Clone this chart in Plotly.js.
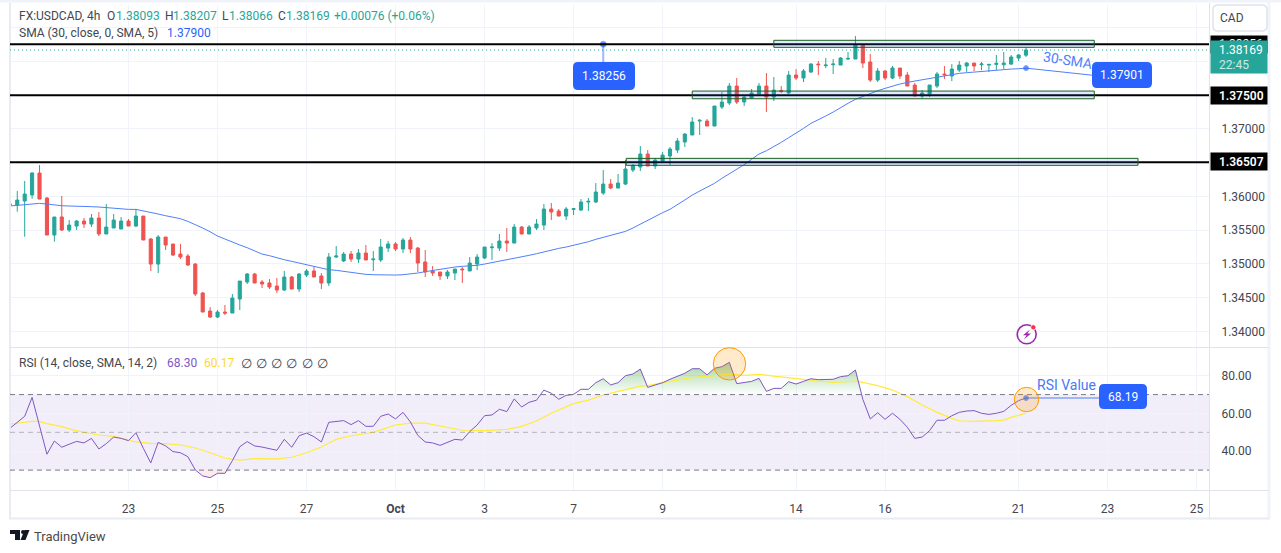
<!DOCTYPE html>
<html><head><meta charset="utf-8">
<script src="https://cdn.plot.ly/plotly-3.0.1.min.js"></script>
<style>html,body{margin:0;padding:0;background:#fff}#chart{width:1281px;height:553px}</style>
</head><body><div id="chart"></div>
<script>
// ---- data ----
const firstBar = -1;
const opens = [1.35877,1.35872,1.35932,1.36021,1.36346,1.35976,1.35428,1.35695,1.35502,1.35561,
1.35635,1.35591,1.35680,1.35443,1.35532,1.35517,1.35635,1.35561,1.35709,1.35369,
1.34998,1.35398,1.35295,1.35146,1.35117,1.34998,1.34569,1.34302,1.34213,1.34287,
1.34272,1.34480,1.34732,1.34850,1.34732,1.34717,1.34672,1.34613,1.34806,1.34628,
1.34835,1.34895,1.34821,1.34717,1.35102,1.35043,1.35146,1.35072,1.35161,1.35062,
1.35058,1.35235,1.35295,1.35221,1.35354,1.35235,1.35028,1.34895,1.34880,1.34821,
1.34865,1.34924,1.34895,1.34998,1.35087,1.35240,1.35235,1.35339,1.35309,1.35546,
1.35443,1.35532,1.35576,1.35813,1.35783,1.35709,1.35808,1.35798,1.35917,1.35917,
1.36050,1.36183,1.36124,1.36183,1.36391,1.36435,1.36628,1.36450,1.36524,1.36598,
1.36687,1.36806,1.36910,1.37117,1.37117,1.37043,1.37324,1.37384,1.37635,1.37398,
1.37458,1.37517,1.37635,1.37472,1.37571,1.37532,1.37798,1.37754,1.37843,1.37961,
1.37937,1.37951,1.37946,1.38035,1.38035,1.38243,1.37991,1.37724,1.37858,1.37754,
1.37902,1.37798,1.37650,1.37487,1.37517,1.37635,1.37813,1.37784,1.37872,1.37932,
1.37976,1.37951,1.37946,1.37956,1.37951,1.37961,1.38050,1.38093];
const highs = [1.35922,1.36080,1.36228,1.36361,1.36465,1.35991,1.35695,1.36006,1.35650,1.35650,
1.35680,1.35739,1.35769,1.35887,1.35739,1.35695,1.35665,1.35813,1.35709,1.35383,
1.35428,1.35398,1.35295,1.35295,1.35146,1.35013,1.34584,1.34361,1.34317,1.34391,
1.34554,1.34746,1.34865,1.34865,1.34761,1.34776,1.34791,1.34895,1.34821,1.34865,
1.34924,1.34954,1.34865,1.35161,1.35265,1.35176,1.35191,1.35221,1.35280,1.35191,
1.35369,1.35339,1.35324,1.35383,1.35398,1.35250,1.35206,1.34969,1.34880,1.34909,
1.34924,1.34954,1.35102,1.35146,1.35250,1.35309,1.35443,1.35532,1.35591,1.35561,
1.35576,1.35665,1.35887,1.35902,1.35813,1.35843,1.35828,1.35961,1.35976,1.36198,
1.36391,1.36258,1.36332,1.36539,1.36480,1.36747,1.36687,1.36569,1.36658,1.36732,
1.36865,1.36939,1.37176,1.37147,1.37147,1.37339,1.37547,1.37680,1.37754,1.37502,
1.37591,1.37680,1.37828,1.37769,1.37635,1.37858,1.37887,1.37887,1.37976,1.38006,
1.38050,1.38035,1.38065,1.38139,1.38376,1.38243,1.38109,1.37902,1.37872,1.37932,
1.37902,1.37843,1.37680,1.37576,1.37650,1.37843,1.37932,1.37961,1.38006,1.37991,
1.37976,1.37991,1.37961,1.38095,1.38139,1.38095,1.38109,1.38207];
const lows = [1.35818,1.35774,1.35403,1.35966,1.35961,1.35428,1.35329,1.35487,1.35472,1.35502,
1.35532,1.35546,1.35413,1.35443,1.35532,1.35517,1.35561,1.35546,1.35354,1.34895,
1.34865,1.35206,1.35117,1.35072,1.34969,1.34524,1.34287,1.34198,1.34198,1.34243,
1.34272,1.34317,1.34702,1.34717,1.34643,1.34628,1.34569,1.34598,1.34628,1.34584,
1.34806,1.34806,1.34628,1.34672,1.35087,1.35028,1.35028,1.35013,1.35058,1.34895,
1.35028,1.35176,1.35191,1.35161,1.35161,1.34880,1.34806,1.34821,1.34761,1.34776,
1.34761,1.34717,1.34895,1.34909,1.35072,1.35058,1.35191,1.35176,1.35309,1.35443,
1.35443,1.35502,1.35502,1.35650,1.35709,1.35650,1.35724,1.35783,1.35783,1.35902,
1.36021,1.36109,1.36124,1.36168,1.36361,1.36376,1.36450,1.36406,1.36495,1.36465,
1.36643,1.36732,1.36910,1.36910,1.37043,1.37043,1.37295,1.37354,1.37369,1.37339,
1.37443,1.37487,1.37250,1.37413,1.37532,1.37517,1.37724,1.37695,1.37828,1.37798,
1.37902,1.37813,1.37946,1.38021,1.38035,1.37902,1.37695,1.37695,1.37724,1.37739,
1.37739,1.37635,1.37487,1.37458,1.37472,1.37606,1.37739,1.37709,1.37843,1.37843,
1.37858,1.37872,1.37843,1.37872,1.37887,1.37946,1.38006,1.38066];
const closes = [1.35887,1.35946,1.36035,1.36346,1.35961,1.35428,1.35695,1.35502,1.35576,1.35635,
1.35591,1.35680,1.35443,1.35546,1.35650,1.35635,1.35561,1.35709,1.35354,1.34998,
1.35398,1.35280,1.35132,1.35102,1.34984,1.34554,1.34287,1.34213,1.34287,1.34272,
1.34495,1.34746,1.34850,1.34717,1.34702,1.34658,1.34613,1.34806,1.34628,1.34850,
1.34895,1.34806,1.34717,1.35102,1.35117,1.35146,1.35072,1.35161,1.35058,1.35072,
1.35250,1.35295,1.35221,1.35354,1.35221,1.35013,1.34880,1.34865,1.34821,1.34880,
1.34924,1.34914,1.35013,1.35102,1.35250,1.35250,1.35339,1.35309,1.35546,1.35443,
1.35546,1.35591,1.35813,1.35769,1.35709,1.35813,1.35818,1.35917,1.35927,1.36065,
1.36183,1.36124,1.36198,1.36406,1.36460,1.36628,1.36450,1.36539,1.36613,1.36702,
1.36821,1.36924,1.37102,1.37127,1.37043,1.37339,1.37398,1.37635,1.37398,1.37472,
1.37532,1.37635,1.37472,1.37576,1.37556,1.37798,1.37754,1.37858,1.37961,1.37951,
1.37946,1.37961,1.38050,1.38045,1.38243,1.37976,1.37724,1.37858,1.37754,1.37902,
1.37784,1.37635,1.37487,1.37532,1.37650,1.37813,1.37803,1.37887,1.37946,1.37976,
1.37932,1.37961,1.37956,1.37971,1.37976,1.38065,1.38095,1.38169];
const sma30 = [1.35858,1.35867,1.35877,1.35892,1.35897,1.35887,1.35872,1.35862,1.35858,1.35858,
1.35853,1.35848,1.35843,1.35833,1.35823,1.35813,1.35808,1.35808,1.35788,1.35759,
1.35739,1.35714,1.35690,1.35670,1.35630,1.35586,1.35532,1.35477,1.35413,1.35369,
1.35319,1.35280,1.35240,1.35191,1.35146,1.35122,1.35087,1.35062,1.35038,1.35013,
1.34988,1.34959,1.34929,1.34914,1.34905,1.34890,1.34870,1.34855,1.34845,1.34840,
1.34835,1.34835,1.34835,1.34840,1.34850,1.34865,1.34885,1.34905,1.34924,1.34939,
1.34954,1.34964,1.34969,1.34979,1.34998,1.35018,1.35043,1.35068,1.35087,1.35107,
1.35127,1.35151,1.35181,1.35206,1.35230,1.35250,1.35275,1.35300,1.35329,1.35364,
1.35393,1.35418,1.35448,1.35482,1.35532,1.35591,1.35650,1.35699,1.35759,1.35809,
1.35873,1.35947,1.36021,1.36080,1.36139,1.36194,1.36268,1.36332,1.36399,1.36470,
1.36550,1.36628,1.36677,1.36737,1.36801,1.36870,1.36934,1.37008,1.37082,1.37132,
1.37191,1.37250,1.37319,1.37379,1.37438,1.37482,1.37522,1.37566,1.37601,1.37635,
1.37665,1.37690,1.37709,1.37724,1.37749,1.37769,1.37788,1.37808,1.37823,1.37833,
1.37843,1.37853,1.37863,1.37872,1.37882,1.37887,1.37892,1.37900];
const rsi = [52.1,55.3,58.5,68.5,53.9,38.4,45.4,42.1,43.7,45.2,
44.4,46.8,41.2,44.0,47.5,46.8,45.6,49.8,41.5,33.8,
44.7,42.8,39.8,39.2,37.1,30.1,26.9,26.0,28.3,28.3,
35.0,42.4,45.1,42.8,42.2,41.4,40.5,46.3,42.1,48.2,
49.6,47.7,44.9,55.3,55.7,56.2,54.1,56.2,53.2,53.2,
58.5,59.7,57.1,60.6,55.5,48.4,44.9,44.4,43.1,44.5,
46.3,45.9,50.4,53.9,58.8,59.2,62.2,61.0,67.7,63.4,
65.9,67.0,72.4,70.7,67.5,69.6,70.1,72.8,72.8,76.3,
78.4,75.1,76.3,80.0,80.9,83.5,73.8,75.1,76.3,78.1,
79.8,81.3,83.7,83.7,80.4,83.9,84.8,87.1,75.8,76.5,
77.0,78.6,71.7,73.3,73.3,76.8,75.6,77.0,78.4,77.9,
77.9,78.1,79.5,80.0,83.0,67.5,57.1,60.4,56.9,60.1,
56.9,52.7,46.8,47.5,50.9,56.4,56.4,58.8,60.6,61.3,
61.5,60.1,59.5,60.1,61.1,64.3,66.8,68.19];
const rsiMaBars = [-1,1,2,3,4,6,7,9,11,13,15,16,18,20,22,24,26,28,29,30,32,35,37,39,41,
43,45,48,51,53,55,57,60,63,66,68,70,72,75,77,79,81,84,85,87,89,91,94,96,98,100,102,104,106,108,110,112,113,114,116,118,120,122,124,126,127,128,129,132,133,134,135,136];
const rsiMa = [54.4,55.5,55.8,55.8,54.6,53.0,51.8,50.0,48.6,47.9,45.8,44.9,44.2,44.0,43.3,41.7,39.2,36.4,35.7,35.3,36.1,35.9,36.8,39.2,42.2,
46.3,48.2,50.0,53.9,54.9,54.9,53.4,51.1,50.9,51.6,53.2,56.0,60.1,65.2,67.1,69.8,71.7,74.5,74.7,76.3,77.7,79.0,79.8,80.7,80.2,80.7,79.8,79.1,78.1,77.2,76.5,76.8,77.2,76.5,74.7,72.4,68.9,64.5,60.6,57.4,56.0,56.0,55.8,56.2,56.5,57.9,59.0,60.17];
const tickBars = [15,27,39,51,63,75,87,105,117,135,147,159];
const tickLabels = ['23','25','27','<b>Oct</b>','3','7','9','14','16','21','23','25'];
const priceTicks = [1.34,1.345,1.35,1.355,1.36,1.365,1.37,1.375,1.38,1.385];
const priceTickLabels = ['1.34000','1.34500','1.35000','1.35500','1.36000','','1.37000','','',''];
const rsiTicks = [40,60,80];
const rsiTickLabels = ['40.00','60.00','80.00'];
const levels = [1.38256,1.375,1.36507];
const lastClose = 1.38169;
const smaCallout = 1.37901, rsiCallout = 68.19, levelCallout = 1.38256;
const zones = [[102.0,145.2,1.38209,1.38313],[91.0,145.2,1.37447,1.37561],[82.1,151.1,1.36461,1.36564]];

// ---- layout helpers ----
const W=1281,H=553,px=x=>x/W,py=y=>1-y/H,FONT='Roboto, sans-serif',INK='#434651',BLUE='#2962ff',SMA_BLUE='#4f7ffb';
const bars = opens.map((_,i)=>firstBar+i);
const rsiOver = rsi.map(v=>Math.max(v,70)), rsiUnder = rsi.map(v=>Math.min(v,30));

const traces = [
 {type:'candlestick',x:bars,open:opens,high:highs,low:lows,close:closes,xaxis:'x',yaxis:'y',whiskerwidth:0,hoverinfo:'skip',
  increasing:{line:{color:'#26a69a',width:1},fillcolor:'#26a69a'},decreasing:{line:{color:'#ef5350',width:1},fillcolor:'#ef5350'}},
 {type:'scatter',mode:'lines',x:bars,y:sma30,xaxis:'x',yaxis:'y',line:{color:SMA_BLUE,width:1},hoverinfo:'skip'},
 {type:'scatter',mode:'lines',x:bars,y:bars.map(()=>70),xaxis:'x',yaxis:'y2',line:{width:0},hoverinfo:'skip'},
 {type:'scatter',mode:'lines',x:bars,y:rsiOver,xaxis:'x',yaxis:'y2',line:{width:0},fill:'tonexty',hoverinfo:'skip',
  fillgradient:{type:'vertical',start:70,stop:88,colorscale:[[0,'rgba(76,175,80,0)'],[1,'rgba(76,175,80,0.55)']]}},
 {type:'scatter',mode:'lines',x:bars,y:bars.map(()=>30),xaxis:'x',yaxis:'y2',line:{width:0},hoverinfo:'skip'},
 {type:'scatter',mode:'lines',x:bars,y:rsiUnder,xaxis:'x',yaxis:'y2',line:{width:0},fill:'tonexty',fillcolor:'rgba(239,83,80,0.12)',hoverinfo:'skip'},
 {type:'scatter',mode:'lines',x:rsiMaBars,y:rsiMa,xaxis:'x',yaxis:'y2',line:{color:'#ffeb3b',width:1.2},hoverinfo:'skip'},
 {type:'scatter',mode:'lines',x:bars,y:rsi,xaxis:'x',yaxis:'y2',line:{color:'#7e57c2',width:1},hoverinfo:'skip'},
 // callout leaders
 {type:'scatter',mode:'lines+markers',x:[79,79],y:[levelCallout,1.3795],xaxis:'x',yaxis:'y',line:{color:'rgba(41,98,255,0.45)',width:2},marker:{size:[6,0],color:BLUE},hoverinfo:'skip'},
 {type:'scatter',mode:'lines+markers',x:[136,145],y:[smaCallout,1.37795],xaxis:'x',yaxis:'y',line:{color:SMA_BLUE,width:1},marker:{size:[5,0],color:BLUE},hoverinfo:'skip'},
 {type:'scatter',mode:'lines+markers',x:[136,146],y:[rsiCallout,rsiCallout],xaxis:'x',yaxis:'y2',line:{color:SMA_BLUE,width:1},marker:{size:[5,0],color:BLUE},hoverinfo:'skip'}
];

function rrect(x0,y0,x1,y1,r,fill){
 const X=v=>px(v),Y=v=>py(v);
 return {type:'path',xref:'paper',yref:'paper',layer:'above',fillcolor:fill,line:{width:0},
  path:`M ${X(x0+r)} ${Y(y0)} L ${X(x1-r)} ${Y(y0)} Q ${X(x1)} ${Y(y0)} ${X(x1)} ${Y(y0+r)} L ${X(x1)} ${Y(y1-r)} Q ${X(x1)} ${Y(y1)} ${X(x1-r)} ${Y(y1)} L ${X(x0+r)} ${Y(y1)} Q ${X(x0)} ${Y(y1)} ${X(x0)} ${Y(y1-r)} L ${X(x0)} ${Y(y0+r)} Q ${X(x0)} ${Y(y0)} ${X(x0+r)} ${Y(y0)} Z`};
}
const pline=(x0,y0,x1,y1,c,w)=>({type:'line',xref:'paper',yref:'paper',layer:'above',x0:px(x0),x1:px(x1),y0:py(y0),y1:py(y1),line:{color:c,width:w}});
const circ=(cx,cy,r,fill,c,w)=>({type:'circle',xref:'paper',yref:'paper',layer:'above',x0:px(cx-r),x1:px(cx+r),y0:py(cy-r),y1:py(cy+r),fillcolor:fill,line:{color:c,width:w}});

const shapes = [
 // frame
 pline(0,1,1281,1,'#f0f3fa',3), pline(10,3,10,518,'#e9ebf2',2), pline(9,518.5,1270,518.5,'#e9ebf2',2), pline(1269,1,1269,518,'#f0f3fa',3),
 pline(1209.5,3,1209.5,518,'#e0e3eb',1), pline(10,347.5,1269,347.5,'#e0e3eb',1), pline(10,490.5,1269,490.5,'#e0e3eb',1),
 // RSI band and levels
 {type:'rect',xref:'x domain',yref:'y2',x0:0,x1:1,y0:30,y1:70,layer:'below',fillcolor:'rgba(126,87,194,0.1)',line:{width:0}},
 {type:'line',xref:'x domain',yref:'y2',x0:0,x1:1,y0:70,y1:70,line:{color:'#787b86',width:1,dash:'5px,4px'}},
 {type:'line',xref:'x domain',yref:'y2',x0:0,x1:1,y0:50,y1:50,line:{color:'rgba(120,123,134,0.5)',width:1,dash:'5px,4px'}},
 {type:'line',xref:'x domain',yref:'y2',x0:0,x1:1,y0:30,y1:30,line:{color:'#787b86',width:1,dash:'5px,4px'}},
 // price levels
 ...levels.map(v=>({type:'line',xref:'x domain',yref:'y',x0:0,x1:1,y0:v,y1:v,layer:'above',line:{color:'#000',width:2}})),
 {type:'line',xref:'x domain',yref:'y',x0:0,x1:1,y0:lastClose,y1:lastClose,line:{color:'#26a69a',width:1,dash:'1px,3px'}},
 // zones
 ...zones.map(z=>({type:'rect',xref:'x',yref:'y',x0:z[0],x1:z[1],y0:z[2],y1:z[3],layer:'above',fillcolor:'rgba(41,98,255,0.14)',line:{color:'#1b5e20',width:1}})),
 // highlight circles
 circ(729.5,363.8,16.2,'rgba(255,152,0,0.2)','#ff9800',1),
 circ(1026.5,399.5,12.2,'rgba(255,152,0,0.2)','#ff9800',1),
 // callout pills
 rrect(573,62,635,90,5,BLUE), rrect(1092,62,1152,88,5,BLUE), rrect(1099,384,1147,409,5,BLUE),
 // CAD button
 Object.assign(rrect(1213,5,1267,31,5,'#ffffff'),{line:{color:'#e0e3eb',width:1.5}}),
 // lightning icon
 circ(1026.7,334.3,9.5,'rgba(0,0,0,0)','#9c27b0',1.6),
 {type:'path',xref:'paper',yref:'paper',layer:'above',fillcolor:'#9c27b0',line:{width:0},
  path:`M ${px(1030)} ${py(329.5)} L ${px(1023)} ${py(335.2)} L ${px(1026.6)} ${py(335.2)} L ${px(1024)} ${py(339.5)} L ${px(1031)} ${py(333.5)} L ${px(1027.4)} ${py(333.5)} Z`},
 circ(1033.3,327.3,2.6,'#f23645','#ffffff',0.8),
 // TradingView mark
 {type:'path',xref:'paper',yref:'paper',layer:'above',fillcolor:'#131722',line:{width:0},
  path:`M ${px(10)} ${py(530)} L ${px(20)} ${py(530)} L ${px(20)} ${py(540)} L ${px(15)} ${py(540)} L ${px(15)} ${py(534)} L ${px(10)} ${py(534)} Z`},
 circ(23,532,2,'#131722','#131722',0),
 {type:'path',xref:'paper',yref:'paper',layer:'above',fillcolor:'#131722',line:{width:0},
  path:`M ${px(24.5)} ${py(530)} L ${px(29.5)} ${py(530)} L ${px(25.5)} ${py(540)} L ${px(20.5)} ${py(540)} Z`}
];

const txt=(t,x,y,c,s,o={})=>Object.assign({text:t,xref:'paper',yref:'paper',x:px(x),y:py(y),xanchor:'left',yanchor:'middle',showarrow:false,font:{family:FONT,size:s||12,color:c||INK},borderpad:0},o);
const box=(x0,x1,yc,h,c)=>({text:'&nbsp;',xref:'paper',yref:'paper',x:px(x0),y:py(yc),xanchor:'left',yanchor:'middle',showarrow:false,width:x1-x0,height:h,bgcolor:c,borderpad:0,font:{size:10}});
const TEAL='#26a69a';
const annotations = [
 txt('FX:USDCAD, 4h',18,15.7), txt('O',106,15.7), txt('1.38093',115,15.7,TEAL), txt('H',164,15.7), txt('1.38207',172,15.7,TEAL),
 txt('L',221,15.7), txt('1.38066',228,15.7,TEAL), txt('C',277,15.7), txt('1.38169',285,15.7,TEAL), txt('+0.00076 (+0.06%)',333,15.7,TEAL),
 txt('SMA (30, close, 0, SMA, 5)',18,32.7), txt('1.37900',166,32.7,BLUE),
 txt('RSI (14, close, SMA, 14, 2)',18,363), txt('68.30',166,363,'#7e57c2'), txt('60.17',203,363,'#fdd835'),
 ...[240,255,270,285,301,316].map(x=>txt('∅',x,363,INK,13)),
 // axis tags
 box(1210,1266,161.6,17,'#000'), txt('1.36507',1218,161.6,'#fff',12,{font:{family:FONT,size:12,color:'#fff',weight:600}}),
 box(1210,1266,95.5,17,'#000'), txt('1.37500',1218,95.5,'#fff',12,{font:{family:FONT,size:12,color:'#fff',weight:600}}),
 box(1210,1266,44,17,'#000'), txt('1.38256',1218,44,'#fff',12),
 box(1210,1266,57.3,31.5,TEAL), txt('1.38169',1218,50.5,'#fff',12), txt('22:45',1218,64.5,'#c8ebe6',12),
 // callouts
 txt('1.38256',604,76,'#fff',12,{xanchor:'center'}), txt('1.37901',1122,75,'#fff',12,{xanchor:'center'}), txt('68.19',1123,396.5,'#fff',12,{xanchor:'center'}),
 txt('30-SMA',1067,60,BLUE,14,{xanchor:'center',textangle:9,font:{family:FONT,size:14,color:'#4f7ffb'}}),
 txt('RSI Value',1066,385,BLUE,14,{xanchor:'center',font:{family:FONT,size:14,color:'#4a78f6'}}),
 txt('CAD',1232,18.5,INK,12,{xanchor:'center'}),
 txt('TradingView',33,536,'#4a4a4a',13)
];

const axisFont={family:FONT,size:12,color:INK}, GRID='#f0f3fa';
const layout = {
 width:W,height:H,autosize:false,margin:{l:0,r:0,t:0,b:0},paper_bgcolor:'#fff',plot_bgcolor:'#fff',showlegend:false,dragmode:false,boxgap:0.4,
 font:{family:FONT},
 xaxis:{domain:[px(10),px(1209)],range:[-0.98,160.67],anchor:'y2',tickmode:'array',tickvals:tickBars,ticktext:tickLabels,
  showgrid:true,gridcolor:GRID,gridwidth:1,zeroline:false,showline:false,ticks:'outside',ticklen:7,tickcolor:'rgba(0,0,0,0)',tickfont:axisFont,
  rangeslider:{visible:false},fixedrange:true},
 yaxis:{domain:[py(347),py(5)],range:[1.33769,1.38836],side:'right',anchor:'x',tickmode:'array',tickvals:priceTicks,ticktext:priceTickLabels,
  showgrid:true,gridcolor:GRID,gridwidth:1,zeroline:false,showline:false,ticks:'outside',ticklen:9,tickcolor:'rgba(0,0,0,0)',tickfont:axisFont,fixedrange:true},
 yaxis2:{domain:[py(490.7),py(348)],range:[19.09,94.67],side:'right',anchor:'x',tickmode:'array',tickvals:rsiTicks,ticktext:rsiTickLabels,
  showgrid:true,gridcolor:GRID,gridwidth:1,zeroline:false,showline:false,ticks:'outside',ticklen:9,tickcolor:'rgba(0,0,0,0)',tickfont:axisFont,fixedrange:true},
 shapes,annotations
};
Plotly.newPlot('chart',traces,layout,{displayModeBar:false,staticPlot:true});
</script></body></html>
